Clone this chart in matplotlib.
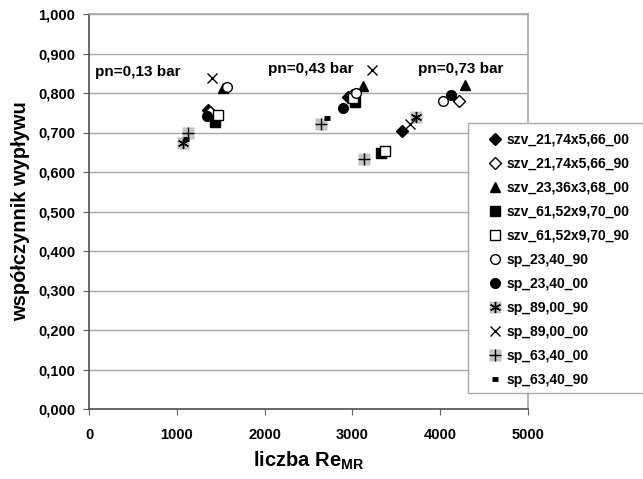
#!/usr/bin/env python3
"""Discharge coefficient vs Re_MR scatter (szv / sp orifices)."""
import matplotlib
matplotlib.use("Agg")
import matplotlib.pyplot as plt
from matplotlib.legend_handler import HandlerTuple

plt.rcParams["font.family"] = ["Liberation Sans", "DejaVu Sans"]
plt.rcParams["font.weight"] = "bold"
plt.rcParams["mathtext.fontset"] = "custom"
plt.rcParams["mathtext.bf"] = "Liberation Sans:bold"
plt.rcParams["mathtext.rm"] = "Liberation Sans:bold"

# --- data ---
re_szv_21_00 = [1360, 2955, 3560]
cd_szv_21_00 = [0.757, 0.790, 0.704]
re_szv_21_90 = [1380, 2990, 4217]
cd_szv_21_90 = [0.752, 0.796, 0.779]
re_szv_23_00 = [1522, 3116, 4282]
cd_szv_23_00 = [0.812, 0.818, 0.820]
re_szv_61_00 = [1435, 3030, 3321]
cd_szv_61_00 = [0.726, 0.777, 0.648]
re_szv_61_90 = [1465, 3010, 3372]
cd_szv_61_90 = [0.745, 0.788, 0.653]
re_sp_23_90 = [1567, 3041, 4027]
cd_sp_23_90 = [0.815, 0.800, 0.780]
re_sp_23_00 = [1340, 2888, 4118]
cd_sp_23_00 = [0.742, 0.763, 0.795]
re_sp_89_90 = [1074, 3724]
cd_sp_89_90 = [0.673, 0.738]
re_sp_89_00 = [1397, 3219, 3656]
cd_sp_89_00 = [0.837, 0.858, 0.722]
re_sp_63_00 = [1131, 2637, 3135]
cd_sp_63_00 = [0.700, 0.722, 0.632]
re_sp_63_90 = [1105, 2714]
cd_sp_63_90 = [0.683, 0.736]

pressure_labels = ["pn=0,13 bar", "pn=0,43 bar", "pn=0,73 bar"]
pressure_x = [550, 2530, 4230]
pressure_y = [0.852, 0.862, 0.862]

x_ticks = [0, 1000, 2000, 3000, 4000, 5000]
y_ticks = [0.0, 0.1, 0.2, 0.3, 0.4, 0.5, 0.6, 0.7, 0.8, 0.9, 1.0]
y_tick_labels = ["0,000", "0,100", "0,200", "0,300", "0,400", "0,500",
                 "0,600", "0,700", "0,800", "0,900", "1,000"]

BG = "#c4c4c4"

fig = plt.figure(figsize=(6.43, 4.79), dpi=100)
ax = fig.add_axes([89 / 643, 70 / 479, 439 / 643, 395 / 479])

handles, labels = [], []


def simple(x, y, label, marker, ms, face="black", mew=1.0):
    h, = ax.plot(x, y, linestyle="none", marker=marker, markersize=ms,
                 markerfacecolor=face, markeredgecolor="black",
                 markeredgewidth=mew, zorder=3)
    handles.append(h)
    labels.append(label)


def boxed(x, y, label, marker, ms, mew):
    bg, = ax.plot(x, y, linestyle="none", marker="s", markersize=9,
                  markerfacecolor=BG, markeredgecolor="none", zorder=3)
    fg, = ax.plot(x, y, linestyle="none", marker=marker, markersize=ms,
                  markeredgecolor="black", markerfacecolor="black",
                  markeredgewidth=mew, zorder=3)
    handles.append((bg, fg))
    labels.append(label)


simple(re_szv_21_00, cd_szv_21_00, "szv_21,74x5,66_00", "D", 6)
simple(re_szv_21_90, cd_szv_21_90, "szv_21,74x5,66_90", "D", 6, face="white")
simple(re_szv_23_00, cd_szv_23_00, "szv_23,36x3,68_00", "^", 7.5)
simple(re_szv_61_00, cd_szv_61_00, "szv_61,52x9,70_00", "s", 6.5)
simple(re_szv_61_90, cd_szv_61_90, "szv_61,52x9,70_90", "s", 6.5, face="white")
simple(re_sp_23_90, cd_sp_23_90, "sp_23,40_90", "o", 7, face="white")
simple(re_sp_23_00, cd_sp_23_00, "sp_23,40_00", "o", 7)
boxed(re_sp_89_90, cd_sp_89_90, "sp_89,00_90", (6, 2, 0), 8, 1.0)
simple(re_sp_89_00, cd_sp_89_00, "sp_89,00_00", "x", 7.5)
boxed(re_sp_63_00, cd_sp_63_00, "sp_63,40_00", "+", 8, 1.0)
simple(re_sp_63_90, cd_sp_63_90, "sp_63,40_90", "_", 5, mew=3.5)

for txt, px, py in zip(pressure_labels, pressure_x, pressure_y):
    ax.text(px, py, txt, ha="center", va="center", fontsize=11,
            fontweight="bold")

ax.set_xlim(0, 5000)
ax.set_ylim(0, 1.0)
ax.set_xticks(x_ticks)
ax.set_xticklabels([str(t) for t in x_ticks])
ax.set_yticks(y_ticks)
ax.set_yticklabels(y_tick_labels)
ax.tick_params(axis="both", labelsize=10.5, direction="out", length=4,
               color="#606060", pad=6)
ax.tick_params(axis="x", pad=10)
ax.yaxis.grid(True, color="#a8a8a8", linewidth=1.0)
ax.set_axisbelow(True)
for side in ("top", "right"):
    ax.spines[side].set_color("#a8a8a8")
    ax.spines[side].set_linewidth(1.2)
for side in ("left", "bottom"):
    ax.spines[side].set_color("#505050")
    ax.spines[side].set_linewidth(1.2)

ax.set_ylabel("współczynnik wypływu", fontsize=14.5, fontweight="bold",
              labelpad=6)
ax.set_xlabel(r"liczba Re$_{\mathbf{MR}}$", fontsize=14.5, fontweight="bold",
              labelpad=5)

# legend box runs off the right edge of the figure in the reference
frame = plt.Rectangle((468 / 643, 1 - 393 / 479), 0.5, 270 / 479,
                      transform=fig.transFigure, facecolor="white",
                      edgecolor="#a8a8a8", linewidth=1.0, zorder=4)
fig.patches.append(frame)

leg = fig.legend(handles, labels, loc="upper left",
                 bbox_to_anchor=(478 / 643, 1 - 123 / 479),
                 borderaxespad=0, fontsize=10, frameon=False,
                 handler_map={tuple: HandlerTuple(ndivide=1)},
                 handlelength=1.0, handletextpad=0.35, labelspacing=0.72,
                 borderpad=0.7)
leg.set_zorder(5)

fig.savefig("out.png", dpi=100)
